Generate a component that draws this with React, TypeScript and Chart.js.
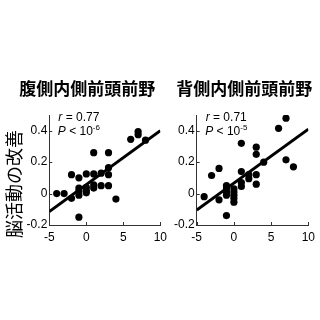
import React, { useEffect, useRef } from "react";
import { Chart, registerables } from "chart.js";

Chart.register(...registerables);

// ---- data ----
const xTicks = [-5, 0, 5, 10];
const yTicks = [-0.2, 0, 0.2, 0.4];
const xRange = [-5, 10];
const yRange = [-0.2, 0.5];

const titles = ["腹側内側前頭前野", "背側内側前頭前野"];
const yAxisTitle = "脳活動の改善";
const rValues = ["0.77", "0.71"];
const pExponents = ["-6", "-5"];

// ventral medial prefrontal cortex
const ventralX = [-4, -3, -2, -2, -1, -1, -1, -1, -1, 0, 0, 0, 0, 1, 1, 1, 1, 2, 2, 3, 3, 3, 3, 4, 6, 7, 7, 8];
const ventralY = [0.0, 0.0, 0.12, -0.03, 0.1, 0.035, 0.015, -0.01, -0.15, 0.125, 0.04, 0.02, 0.005, 0.26, 0.125, 0.055, 0.035, 0.13, 0.05, 0.26, 0.165, 0.12, 0.05, -0.035, 0.345, 0.395, 0.375, 0.34];
const ventralFit = [-0.115, 0.4]; // fitted y at x = -5 and x = 10

// dorsal medial prefrontal cortex
const dorsalX = [-4, -3, -2, -2, -1, -1, -1, -1, -1, 0, 0, 0, 0, 0, 1, 1, 1, 1, 2, 2, 3, 3, 3, 3, 4, 6, 7, 7, 8];
const dorsalY = [-0.02, 0.115, 0.16, -0.04, 0.05, 0.03, 0.01, -0.01, -0.14, 0.03, 0.01, -0.01, -0.03, -0.055, 0.32, 0.14, 0.07, 0.045, 0.12, 0.095, 0.295, 0.25, 0.12, 0.06, 0.2, 0.415, 0.48, 0.215, 0.17];
const dorsalFit = [-0.105, 0.41];

const NUM_FONT = '"Liberation Sans", Arial, sans-serif';
const CJK_FONT = '"Noto Sans CJK JP", "Noto Sans CJK SC", sans-serif';

type PanelCfg = {
  xs: number[];
  ys: number[];
  fit: number[];
  title: string;
  r: string;
  pExp: string;
  yAxisWidth: number;
  padRight: number;
  titleX: number; // canvas-relative centre of the title
  showYTitle: boolean;
};

function makeChart(canvas: HTMLCanvasElement, cfg: PanelCfg) {
  const deco = {
    id: "deco",
    afterDraw(chart: any) {
      const ctx = chart.ctx as CanvasRenderingContext2D;
      const { left, bottom } = chart.chartArea;
      const sx = chart.scales.x;
      const sy = chart.scales.y;
      ctx.save();
      // inward tick marks
      ctx.strokeStyle = "#333";
      ctx.lineWidth = 1;
      ctx.beginPath();
      for (const v of xTicks) {
        const px = Math.round(sx.getPixelForValue(v)) + 0.5;
        ctx.moveTo(px, bottom);
        ctx.lineTo(px, bottom - 3);
      }
      for (const v of yTicks) {
        const py = Math.round(sy.getPixelForValue(v)) + 0.5;
        ctx.moveTo(left, py);
        ctx.lineTo(left + 3, py);
      }
      ctx.stroke();

      // title
      ctx.fillStyle = "#000";
      ctx.font = `bold 17px ${CJK_FONT}`;
      ctx.textAlign = "center";
      ctx.textBaseline = "middle";
      ctx.fillText(cfg.title, cfg.titleX, 88.5);

      // y axis title
      if (cfg.showYTitle) {
        ctx.save();
        ctx.translate(13.7, 184);
        ctx.rotate(-Math.PI / 2);
        ctx.font = `18px ${CJK_FONT}`;
        ctx.textAlign = "center";
        ctx.textBaseline = "middle";
        ctx.fillText(yAxisTitle, 0, 0);
        ctx.restore();
      }

      // statistics annotation
      ctx.textAlign = "left";
      ctx.textBaseline = "alphabetic";
      let x = left + 9;
      ctx.font = `italic 12px ${NUM_FONT}`;
      ctx.fillText("r", x, 121);
      x += ctx.measureText("r").width;
      ctx.font = `12px ${NUM_FONT}`;
      ctx.fillText(" = " + cfg.r, x, 121);

      x = left + 8.5;
      ctx.font = `italic 12px ${NUM_FONT}`;
      ctx.fillText("P", x, 135);
      x += ctx.measureText("P").width;
      ctx.font = `12px ${NUM_FONT}`;
      const txt = " < 10";
      ctx.fillText(txt, x, 135);
      x += ctx.measureText(txt).width;
      ctx.font = `8px ${NUM_FONT}`;
      ctx.fillText(cfg.pExp, x, 130);
      ctx.restore();
    },
  };

  return new Chart(canvas, {
    type: "scatter",
    data: {
      datasets: [
        {
          type: "line",
          data: [
            { x: xRange[0], y: cfg.fit[0] },
            { x: xRange[1], y: cfg.fit[1] },
          ],
          borderColor: "#000",
          borderWidth: 3,
          pointRadius: 0,
          fill: false,
          order: 0,
        } as any,
        {
          data: cfg.xs.map((x, i) => ({ x, y: cfg.ys[i] })),
          backgroundColor: "#000",
          borderColor: "#000",
          borderWidth: 0,
          pointRadius: 3.6,
          pointHoverRadius: 3.6,
          order: 1,
        },
      ],
    },
    options: {
      responsive: false,
      animation: false,
      events: [],
      layout: { padding: { left: 0, right: cfg.padRight, top: 115, bottom: 15 } },
      plugins: {
        legend: { display: false },
        tooltip: { enabled: false },
        title: { display: false },
      },
      scales: {
        x: {
          type: "linear",
          min: xRange[0],
          max: xRange[1],
          afterBuildTicks: (s: any) => {
            s.ticks = xTicks.map((v) => ({ value: v }));
          },
          afterFit: (s: any) => {
            s.height = 20;
          },
          grid: { display: false, drawTicks: false },
          border: { display: true, color: "#333", width: 1 },
          ticks: {
            color: "#000",
            font: { family: NUM_FONT, size: 12 },
            padding: 5,
            maxRotation: 0,
            autoSkip: false,
            callback: (v: any) => String(v),
          },
        },
        y: {
          type: "linear",
          min: yRange[0],
          max: yRange[1],
          afterBuildTicks: (s: any) => {
            s.ticks = yTicks.map((v) => ({ value: v }));
          },
          afterFit: (s: any) => {
            s.width = cfg.yAxisWidth;
          },
          grid: { display: false, drawTicks: false },
          border: { display: true, color: "#333", width: 1 },
          ticks: {
            color: "#000",
            font: { family: NUM_FONT, size: 12 },
            padding: 2,
            autoSkip: false,
            callback: (v: any) => String(v),
          },
        },
      },
    } as any,
    plugins: [deco],
  });
}

const LEFT_CANVAS = { left: 0, width: 172 };
const RIGHT_CANVAS = { left: 165, width: 155 };
const CANVAS_H = 260;

export default function App() {
  const leftRef = useRef<HTMLCanvasElement>(null);
  const rightRef = useRef<HTMLCanvasElement>(null);

  useEffect(() => {
    const a = makeChart(leftRef.current!, {
      xs: ventralX,
      ys: ventralY,
      fit: ventralFit,
      title: titles[0],
      r: rValues[0],
      pExp: pExponents[0],
      yAxisWidth: 49.3,
      padRight: 8,
      titleX: 87.2 - LEFT_CANVAS.left,
      showYTitle: true,
    });
    const b = makeChart(rightRef.current!, {
      xs: dorsalX,
      ys: dorsalY,
      fit: dorsalFit,
      title: titles[1],
      r: rValues[1],
      pExp: pExponents[1],
      yAxisWidth: 31.7,
      padRight: 7.3,
      titleX: 244.2 - RIGHT_CANVAS.left,
      showYTitle: false,
    });
    return () => {
      a.destroy();
      b.destroy();
    };
  }, []);

  return (
    <div style={{ position: "absolute", left: 0, top: 0, width: 320, height: 320, background: "#fff" }}>
      <canvas
        ref={leftRef}
        width={LEFT_CANVAS.width}
        height={CANVAS_H}
        style={{ position: "absolute", left: LEFT_CANVAS.left, top: 0, width: LEFT_CANVAS.width, height: CANVAS_H }}
      />
      <canvas
        ref={rightRef}
        width={RIGHT_CANVAS.width}
        height={CANVAS_H}
        style={{ position: "absolute", left: RIGHT_CANVAS.left, top: 0, width: RIGHT_CANVAS.width, height: CANVAS_H }}
      />
    </div>
  );
}
